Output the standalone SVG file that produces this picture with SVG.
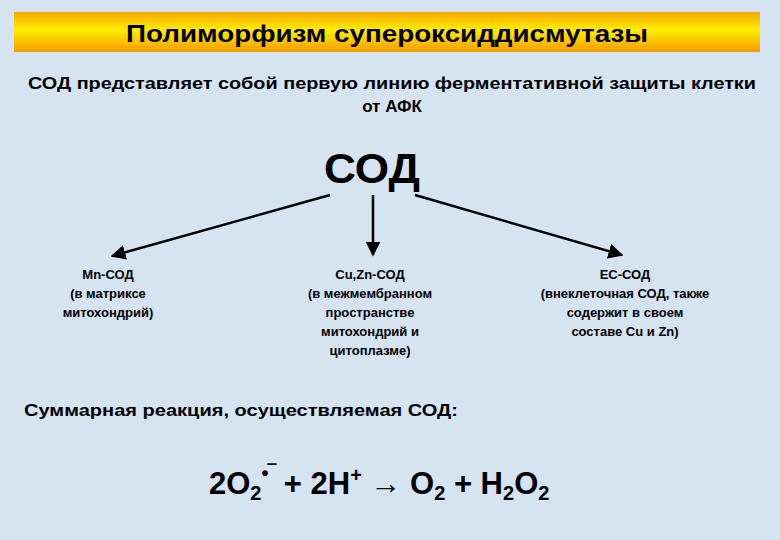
<svg xmlns="http://www.w3.org/2000/svg" width="780" height="540" viewBox="0 0 780 540">
<defs>
<linearGradient id="bar" x1="0" y1="0" x2="0" y2="1">
<stop offset="0" stop-color="#f5a800"/><stop offset="0.45" stop-color="#ffee00"/><stop offset="1" stop-color="#f59a00"/>
</linearGradient>
<marker id="ah" viewBox="0 0 10 10" refX="9" refY="5" markerWidth="6" markerHeight="6" orient="auto"><path d="M0,0 L10,5 L0,10 z" fill="#000"/></marker>
</defs>
<style>
text{font-family:"Liberation Sans",Arial,sans-serif;fill:#000;text-anchor:middle}
.b{font-weight:bold}
.n{font-size:13px;font-weight:bold}
.f{font-size:31px;font-weight:bold;text-anchor:start}
.s{font-size:20px}
</style>
<rect width="780" height="540" fill="#d6e4f2"/>
<g id="title"><rect x="14" y="12" width="746" height="40" fill="url(#bar)"/>
<text class="b" x="387" y="42" font-size="24" textLength="522" lengthAdjust="spacingAndGlyphs">Полиморфизм супероксиддисмутазы</text></g>
<g id="intro"><text class="b" font-size="17" x="392" y="89" textLength="728" lengthAdjust="spacingAndGlyphs">СОД представляет собой первую линию ферментативной защиты клетки</text>
<text class="b" font-size="17" x="392" y="112">от АФК</text></g>
<g id="sod"><text x="372" y="183" font-size="42" font-weight="bold" textLength="96" lengthAdjust="spacingAndGlyphs">СОД</text></g>
<g id="connectors" stroke="#000" stroke-width="2.5" fill="none">
<line x1="330" y1="195" x2="112" y2="256" marker-end="url(#ah)"/>
<line x1="373" y1="195" x2="373" y2="255" marker-end="url(#ah)"/>
<line x1="415" y1="195" x2="622" y2="255" marker-end="url(#ah)"/>
</g>
<g id="mn"><text class="n" x="108" y="279">Mn-СОД</text><text class="n" x="108" y="298">(в матриксе</text><text class="n" x="108" y="317">митохондрий)</text></g>
<g id="cuzn"><text class="n" x="370" y="279">Cu,Zn-СОД</text><text class="n" x="370" y="298">(в межмембранном</text><text class="n" x="370" y="317">пространстве</text><text class="n" x="370" y="336">митохондрий и</text><text class="n" x="370" y="355">цитоплазме)</text></g>
<g id="ec"><text class="n" x="625" y="279">ЕС-СОД</text><text class="n" x="625" y="298">(внеклеточная СОД, также</text><text class="n" x="625" y="317">содержит в своем</text><text class="n" x="625" y="336">составе Cu и Zn)</text></g>
<g id="summary"><text class="b" font-size="17" x="241" y="416" textLength="434" lengthAdjust="spacingAndGlyphs">Суммарная реакция, осуществляемая СОД:</text></g>
<g id="eq"><text class="f" x="209" y="494">2O<tspan class="s" dy="6">2</tspan><tspan class="s" dy="-20">•‾</tspan><tspan dy="14"> + 2H</tspan><tspan class="s" dy="-12">+</tspan><tspan dy="12"> → O</tspan><tspan class="s" dy="6">2</tspan><tspan dy="-6"> + H</tspan><tspan class="s" dy="6">2</tspan><tspan dy="-6">O</tspan><tspan class="s" dy="6">2</tspan></text></g>
</svg>
